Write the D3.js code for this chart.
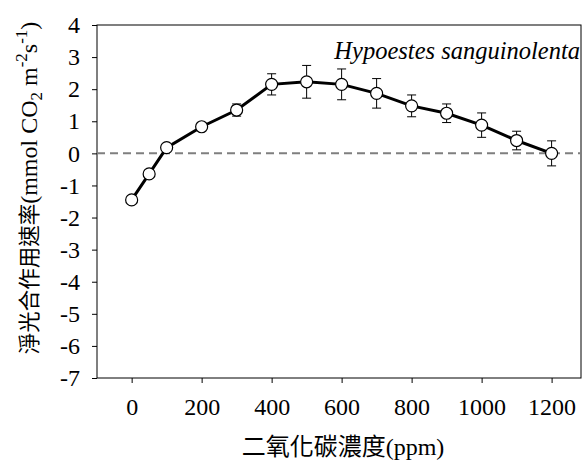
<!DOCTYPE html>
<html>
<head>
<meta charset="utf-8">
<script src="https://cdn.jsdelivr.net/npm/d3@7"></script>
<style>
  html, body { margin: 0; padding: 0; background: #fff; }
  svg { display: block; }
  text { font-family: "Liberation Serif", "Times New Roman", serif; fill: #000; }
  tspan.cjk { font-family: "Noto Sans CJK TC", "Noto Sans CJK SC", sans-serif; }
</style>
</head>
<body>
<svg id="chart" width="587" height="464"></svg>
<script>
// ---- data ----
const co2 = [0, 50, 100, 200, 300, 400, 500, 600, 700, 800, 900, 1000, 1100, 1200];
const rate = [-1.45, -0.64, 0.18, 0.83, 1.35, 2.15, 2.23, 2.15, 1.87, 1.48, 1.25, 0.88, 0.40, 0.00];
const sem = [0, 0, 0, 0, 0.19, 0.33, 0.51, 0.48, 0.46, 0.34, 0.29, 0.38, 0.29, 0.39];
const xTicks = [0, 200, 400, 600, 800, 1000, 1200];
const yTicks = [-7, -6, -5, -4, -3, -2, -1, 0, 1, 2, 3, 4];
const speciesLabel = "Hypoestes sanguinolenta";

const SERIF = "'Liberation Serif', 'Times New Roman', serif";
const svg = d3.select("#chart");
const L = 97, R = 581, T = 25, B = 378;

const x = d3.scaleLinear().domain([-99, 1284]).range([L, R]);
const y = d3.scaleLinear().domain([-7, 4]).range([B, T]);

// frame
svg.append("rect").attr("x", L).attr("y", T).attr("width", R - L).attr("height", B - T)
  .attr("fill", "none").attr("stroke", "#000").attr("stroke-width", 1);

// axes
const ax = svg.append("g").attr("transform", `translate(0,${B})`)
  .call(d3.axisBottom(x).tickValues(xTicks).tickSize(5).tickSizeOuter(0).tickPadding(15).tickFormat(d => String(d)));
const ay = svg.append("g").attr("transform", `translate(${L},0)`)
  .call(d3.axisLeft(y).tickValues(yTicks).tickSize(5).tickSizeOuter(0).tickPadding(12).tickFormat(d => d < 0 ? "-" + Math.abs(d) : String(d)));
[ax, ay].forEach(g => {
  g.attr("font-family", null).attr("font-size", null);
  g.select(".domain").remove();
  g.selectAll("line").attr("stroke", "#000");
  g.selectAll("text").style("font-family", SERIF).style("font-size", "24px").attr("fill", "#000");
});

// zero dashed line
svg.append("line").attr("x1", L).attr("x2", R).attr("y1", y(0)).attr("y2", y(0))
  .attr("stroke", "#7f7f7f").attr("stroke-width", 2).attr("stroke-dasharray", "8,5");

// error bars
const data = co2.map((c, i) => ({ c, v: rate[i], e: sem[i] }));
const eb = svg.append("g");
data.filter(d => d.e > 0).forEach(d => {
  eb.append("line").attr("x1", x(d.c)).attr("x2", x(d.c)).attr("y1", y(d.v - d.e)).attr("y2", y(d.v + d.e))
    .attr("stroke", "#000").attr("stroke-width", 1);
  [d.v - d.e, d.v + d.e].forEach(v => {
    eb.append("line").attr("x1", x(d.c) - 4.5).attr("x2", x(d.c) + 4.5).attr("y1", y(v)).attr("y2", y(v))
      .attr("stroke", "#000").attr("stroke-width", 1);
  });
});

// line
svg.append("path").datum(data)
  .attr("d", d3.line().x(d => x(d.c)).y(d => y(d.v)))
  .attr("fill", "none").attr("stroke", "#000").attr("stroke-width", 3);

// markers
svg.append("g").selectAll("circle").data(data).join("circle")
  .attr("cx", d => x(d.c)).attr("cy", d => y(d.v)).attr("r", 6)
  .attr("fill", "#fff").attr("stroke", "#000").attr("stroke-width", 1.2);

// species label
svg.append("text").attr("x", 580).attr("y", 59).attr("text-anchor", "end")
  .style("font-family", SERIF).style("font-size", "24.5px").style("font-style", "italic").text(speciesLabel);

// x title
const xt = svg.append("text").attr("x", 343).attr("y", 455).attr("text-anchor", "middle")
  .style("font-size", "24px");
xt.append("tspan").attr("class", "cjk").text("二氧化碳濃度");
xt.append("tspan").style("font-family", SERIF).style("font-size", "24px").text("(ppm)");

// y title
const yt = svg.append("text")
  .attr("transform", "translate(37,188) rotate(-90)")
  .attr("text-anchor", "middle").style("font-family", SERIF).style("font-size", "24px");
yt.append("tspan").attr("class", "cjk").style("font-size", "21.5px").text("淨光合作用速率");
yt.append("tspan").text("(mmol CO");
yt.append("tspan").style("font-size", "17px").attr("dy", 5).text("2");
yt.append("tspan").attr("dy", -5).text(" m");
yt.append("tspan").style("font-size", "17px").attr("dy", -10).text("-2");
yt.append("tspan").attr("dy", 10).text("s");
yt.append("tspan").style("font-size", "17px").attr("dy", -10).text("-1");
yt.append("tspan").attr("dy", 10).text(")");
</script>
</body>
</html>
